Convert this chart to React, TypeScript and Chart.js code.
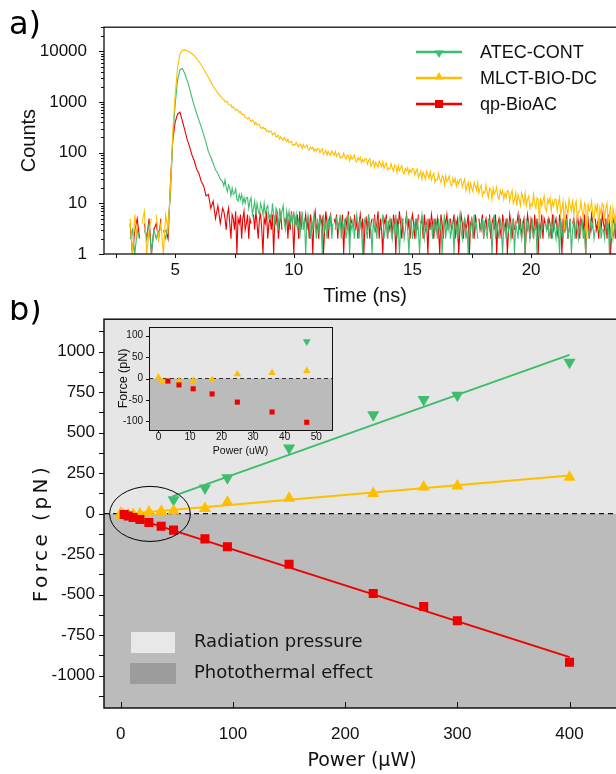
import React, { useEffect, useRef } from 'react';
import Chart from 'chart.js/auto';

// ---------------- Panel a: fluorescence decay (TCSPC) ----------------
// early part: 3.0 ... 7.0 ns every 0.1 ns ; tail: 7.05 ... 24.0 ns every 0.05 ns
const earlyStartNs = 3.0;
const earlyStepNs = 0.1;
const tailStartNs = 7.05;
const tailStepNs = 0.05;

const countsMLCTEarly = [
  0, 5, 1, 6, 2, 0, 4, 7, 1, 3, 5, 0, 6, 2, 4, 1, 6, 3,
  20, 260, 1400, 4800, 8800, 10500, 10700, 10300, 9700, 9000, 8300, 7300, 6300, 5400, 4500, 3700, 3050, 2500, 2050, 1750, 1500, 1320, 1140,
];
const countsMLCTTail = [
  1123, 1009, 1005, 1008, 879, 871, 876, 770, 796, 739, 691, 721, 672, 624, 646, 569, 568, 564, 494, 490,
  463, 494, 444, 411, 438, 414, 363, 397, 355, 357, 364, 316, 298, 319, 296, 304, 264, 276, 254, 266,
  263, 226, 239, 247, 203, 211, 221, 186, 206, 189, 175, 199, 182, 166, 185, 156, 163, 168, 140, 145,
  140, 160, 141, 130, 149, 143, 121, 144, 126, 133, 142, 118, 112, 129, 119, 128, 107, 119, 108, 121,
  120, 100, 111, 120, 93, 101, 111, 89, 106, 96, 89, 109, 98, 89, 106, 85, 93, 99, 78, 83,
  80, 98, 82, 74, 90, 86, 69, 88, 74, 80, 89, 69, 65, 80, 72, 81, 64, 74, 66, 77,
  76, 59, 69, 76, 54, 61, 69, 51, 65, 58, 52, 68, 60, 53, 67, 49, 57, 62, 46, 50,
  48, 61, 50, 43, 57, 53, 40, 56, 44, 50, 56, 41, 38, 49, 44, 51, 38, 46, 41, 49,
  48, 36, 43, 48, 32, 37, 43, 30, 41, 35, 30, 43, 37, 31, 42, 29, 35, 39, 26, 30,
  29, 39, 30, 26, 35, 33, 23, 35, 27, 30, 35, 24, 22, 31, 26, 31, 22, 28, 24, 30,
  30, 21, 26, 30, 18, 22, 26, 17, 25, 20, 17, 26, 22, 18, 26, 16, 20, 23, 14, 17,
  16, 23, 17, 13, 20, 19, 12, 20, 15, 17, 21, 13, 12, 18, 15, 18, 12, 16, 13, 18,
  17, 11, 15, 18, 10, 12, 16, 9, 15, 12, 9, 16, 13, 10, 16, 9, 12, 14, 8, 10,
  9, 15, 10, 8, 13, 12, 4, 13, 9, 11, 14, 8, 7, 12, 10, 13, 7, 11, 9, 12,
  12, 7, 10, 13, 6, 8, 11, 3, 10, 8, 6, 12, 9, 7, 12, 6, 9, 11, 5, 7,
  7, 11, 7, 5, 10, 9, 2, 10, 7, 8, 11, 6, 5, 9, 7, 10, 3, 8, 6, 10,
  9, 5, 8, 10, 4, 6, 9, 2, 8, 6, 4, 9, 7, 5, 9, 5, 7, 8, 4, 5,
];

const countsATECEarly = [
  0, 2, 3, 1, 3, 2, 0, 3, 2, 4, 1, 3, 2, 3, 0, 3, 2, 4,
  14, 200, 900, 2700, 4300, 4600, 3700, 2700, 1900, 1250, 850, 600, 440, 320, 230, 158, 105, 82, 62, 46, 39, 30, 27,
];
const countsATECTail = [
  22, 29, 21, 17, 23, 20, 14, 20, 15, 16, 19, 12, 11, 15, 12, 15, 10, 13, 10, 13,
  13, 8, 11, 13, 6, 8, 11, 6, 10, 7, 6, 10, 8, 6, 10, 6, 8, 9, 5, 6,
  5, 10, 6, 4, 8, 7, 3, 8, 5, 7, 9, 4, 3, 7, 5, 7, 4, 6, 4, 7,
  4, 6, 3, 5, 2, 4, 7, 3, 5, 1, 4, 6, 4, 2, 5, 3, 6, 4, 2, 5,
  3, 5, 4, 1, 6, 3, 4, 2, 5, 3, 6, 2, 4, 0, 3, 5, 4, 3, 6, 2,
  4, 3, 5, 2, 3, 6, 1, 4, 3, 5, 2, 4, 6, 3, 2, 5, 3, 1, 4, 5,
  3, 2, 6, 4, 3, 1, 5, 3, 4, 2, 5, 0, 3, 4, 6, 2, 3, 5, 2, 4,
  5, 3, 2, 4, 3, 6, 2, 4, 1, 3, 5, 4, 2, 3, 6, 3, 1, 4, 5, 2,
  3, 4, 2, 5, 3, 1, 4, 6, 3, 2, 4, 3, 5, 0, 3, 4, 2, 5, 3, 4,
  2, 5, 3, 4, 1, 3, 6, 2, 4, 3, 5, 2, 3, 4, 1, 5, 3, 2, 4, 6,
  3, 2, 4, 5, 2, 3, 1, 4, 3, 5, 2, 6, 3, 4, 2, 0, 4, 3, 5, 2,
  4, 3, 2, 5, 3, 4, 1, 3, 6, 2, 4, 3, 2, 5, 3, 1, 4, 3, 2, 5,
  3, 4, 2, 3, 5, 1, 4, 3, 2, 6, 3, 2, 4, 3, 1, 5, 3, 4, 2, 3,
  5, 2, 3, 4, 1, 3, 5, 2, 4, 3, 0, 4, 3, 5, 2, 3, 4, 2, 6, 3,
  2, 4, 3, 1, 5, 3, 2, 4, 3, 5, 2, 3, 4, 1, 3, 5, 2, 4, 3, 2,
  4, 3, 5, 2, 3, 1, 4, 3, 2, 5, 3, 4, 2, 3, 0, 4, 3, 5, 2, 3,
  3, 2, 4, 3, 5, 1, 3, 4, 2, 3, 5, 2, 4, 1, 3, 4, 2, 5, 3, 2,
];

const countsQPEarly = [
  0, 4, 1, 3, 5, 2, 0, 4, 2, 5, 1, 3, 4, 2, 5, 0, 3, 2,
  25, 180, 400, 580, 630, 430, 285, 185, 135, 92, 70, 48, 39, 27, 22, 14, 15, 8, 11, 5, 9, 4, 8,
];
const countsQPTail = [
  7, 5, 3, 6, 8, 4, 2, 6, 5, 3, 7, 1, 5, 4, 6, 2, 5, 7, 3, 4,
  6, 2, 5, 4, 0, 6, 3, 7, 4, 2, 5, 6, 3, 1, 5, 4, 7, 2, 4, 5,
  3, 6, 1, 5, 4, 7, 2, 4, 6, 3, 0, 5, 4, 6, 2, 5, 3, 7, 4, 1,
  5, 4, 6, 2, 7, 3, 5, 0, 4, 6, 3, 5, 2, 6, 4, 1, 5, 7, 3, 4,
  2, 6, 4, 5, 1, 3, 7, 4, 2, 5, 6, 3, 0, 5, 4, 6, 2, 4, 5, 3,
  6, 1, 4, 5, 3, 7, 2, 5, 4, 0, 6, 3, 5, 2, 4, 6, 3, 5, 1, 4,
  5, 3, 6, 2, 4, 5, 0, 6, 3, 4, 7, 2, 5, 3, 1, 5, 4, 6, 2, 4,
  3, 5, 2, 6, 4, 1, 5, 3, 7, 4, 2, 5, 0, 4, 6, 3, 5, 2, 4, 6,
  4, 2, 5, 3, 6, 0, 4, 5, 2, 6, 3, 4, 1, 5, 3, 6, 4, 2, 5, 3,
  5, 3, 1, 6, 4, 2, 5, 4, 6, 3, 0, 5, 3, 4, 6, 2, 4, 5, 1, 3,
  6, 4, 2, 5, 3, 4, 6, 1, 4, 5, 3, 2, 6, 4, 0, 5, 3, 4, 6, 2,
  4, 5, 3, 0, 6, 2, 4, 5, 3, 6, 1, 4, 5, 3, 2, 6, 4, 3, 5, 1,
  3, 6, 4, 2, 5, 3, 0, 4, 6, 3, 5, 2, 4, 5, 1, 3, 6, 4, 2, 5,
  4, 2, 6, 3, 5, 1, 4, 3, 6, 2, 5, 4, 0, 3, 5, 4, 2, 6, 3, 4,
  5, 3, 2, 6, 4, 1, 5, 3, 4, 6, 2, 3, 5, 0, 4, 5, 3, 2, 6, 4,
  2, 5, 4, 3, 6, 1, 4, 5, 2, 3, 6, 4, 0, 5, 3, 4, 2, 5, 3, 6,
  4, 3, 5, 2, 6, 4, 1, 3, 5, 4, 2, 6, 3, 0, 4, 5, 3, 2, 4, 5,
];

const countTickValues = [1, 10, 100, 1000, 10000];
const timeTickValues = [5, 10, 15, 20];
const decayLabels = ['ATEC-CONT', 'MLCT-BIO-DC', 'qp-BioAC'];

// ---------------- Panel b: optical force vs power ----------------
const powerATEC = [47, 75, 95, 150, 225, 270, 300, 400];
const forceATEC = [86, 158, 222, 405, 610, 705, 730, 934];
const powerMLCT = [0, 1, 2.5, 6.5, 11, 17, 25, 36, 47, 75, 95, 150, 225, 270, 300, 400];
const forceMLCT = [2, -8, -8, -6, -5, -3, 10, 13, 18, 32, 70, 94, 124, 164, 170, 225];
const powerQP = [3, 6.5, 11, 17, 25, 36, 47, 75, 95, 150, 225, 270, 300, 400];
const forceQP = [-6, -15, -24, -36, -55, -78, -102, -156, -205, -313, -493, -573, -661, -917];

const fitPowerATEC = [46, 400];
const fitForceATEC = [106, 980];
const fitPowerMLCT = [-4, 400];
const fitForceMLCT = [-7, 235];
const fitPowerQP = [0, 400];
const fitForceQP = [0, -886];

const forceTickValues = [-1000, -750, -500, -250, 0, 250, 500, 750, 1000];
const powerTickValues = [0, 100, 200, 300, 400];
const insetForceTicks = [-100, -50, 0, 50, 100];
const insetPowerTicks = [0, 10, 20, 30, 40, 50];
const regionLabels = ['Radiation pressure', 'Photothermal effect'];

// highlighted low-power region (ellipse), in data units
const zoomCenterPower = 26;
const zoomCenterForce = -2;
const zoomRadiusPower = 36;
const zoomRadiusForce = 170;

// ---------------- styles ----------------
const GREEN = '#3dbd6e';
const YELLOW = '#ffbf00';
const RED = '#ee0000';
const LIGHT_BG = '#e6e6e6';
const DARK_BG = '#bbbbbb';
const SANS = '"Liberation Sans", Arial, sans-serif';
const DEJAVU = '"DejaVu Sans", sans-serif';
const INK = '#111111';

const toPoints = (xs: number[], ys: number[]) => xs.map((x, i) => ({ x, y: ys[i] }));
const decayPoints = (early: number[], tail: number[]) => [
  ...early.map((y, i) => ({ x: +(earlyStartNs + i * earlyStepNs).toFixed(3), y })),
  ...tail.map((y, i) => ({ x: +(tailStartNs + i * tailStepNs).toFixed(3), y })),
];

function tri(ctx: CanvasRenderingContext2D, x: number, y: number, r: number, down: boolean) {
  const s = down ? -1 : 1;
  ctx.beginPath();
  ctx.moveTo(x, y - s * r);
  ctx.lineTo(x + r * 0.866, y + s * r * 0.5);
  ctx.lineTo(x - r * 0.866, y + s * r * 0.5);
  ctx.closePath();
  ctx.fill();
}
function hLine(ctx: CanvasRenderingContext2D, x0: number, x1: number, y: number) {
  ctx.beginPath();
  ctx.moveTo(x0, y);
  ctx.lineTo(x1, y);
  ctx.stroke();
}
function vLine(ctx: CanvasRenderingContext2D, x: number, y0: number, y1: number) {
  ctx.beginPath();
  ctx.moveTo(x, y0);
  ctx.lineTo(x, y1);
  ctx.stroke();
}

const topDecor = {
  id: 'topDecor',
  afterDraw(chart: any) {
    const { ctx, chartArea: a } = chart;
    const x = chart.scales.x;
    const y = chart.scales.y;
    ctx.save();
    ctx.strokeStyle = INK;
    ctx.lineWidth = 1;
    for (let d = 0; d <= 4; d++) {
      for (let m = 1; m <= 9; m++) {
        const v = m * Math.pow(10, d);
        if (v > y.max) continue;
        const py = Math.round(y.getPixelForValue(v)) + 0.5;
        hLine(ctx, a.left - (m === 1 ? 5 : 3), a.left, py);
      }
    }
    for (let k = 1; k * 2.5 < x.max; k++) {
      const px = Math.round(x.getPixelForValue(k * 2.5)) + 0.5;
      vLine(ctx, px, a.bottom, a.bottom + 4);
    }
    ctx.lineWidth = 1.3;
    ctx.strokeRect(a.left, a.top, a.right - a.left, a.bottom - a.top);

    const colors = [GREEN, YELLOW, RED];
    decayLabels.forEach((lab, i) => {
      const cy = 52 + i * 26;
      ctx.strokeStyle = colors[i];
      ctx.fillStyle = colors[i];
      ctx.lineWidth = 2.5;
      hLine(ctx, 416, 462, cy);
      if (i === 0) tri(ctx, 439, cy + 1, 5, true);
      else if (i === 1) tri(ctx, 439, cy - 1, 5, false);
      else ctx.fillRect(435, cy - 4, 8, 8);
      ctx.fillStyle = INK;
      ctx.font = `18px ${SANS}`;
      ctx.textAlign = 'left';
      ctx.textBaseline = 'middle';
      ctx.fillText(lab, 480, cy + 1);
    });

    ctx.fillStyle = '#000';
    ctx.font = `32px ${DEJAVU}`;
    ctx.textAlign = 'left';
    ctx.textBaseline = 'alphabetic';
    ctx.fillText('a)', 9, 34);
    ctx.restore();
  },
};

const bottomDecor = {
  id: 'bottomDecor',
  beforeDatasetsDraw(chart: any) {
    const { ctx, chartArea: a } = chart;
    const y = chart.scales.y;
    const y0 = y.getPixelForValue(0);
    ctx.save();
    ctx.fillStyle = LIGHT_BG;
    ctx.fillRect(a.left, a.top, a.right - a.left, y0 - a.top);
    ctx.fillStyle = DARK_BG;
    ctx.fillRect(a.left, y0, a.right - a.left, a.bottom - y0);
    ctx.strokeStyle = '#111';
    ctx.lineWidth = 1.2;
    ctx.setLineDash([5, 4]);
    hLine(ctx, a.left, a.right, y0);
    ctx.setLineDash([]);
    ctx.fillStyle = '#e8e8e8';
    ctx.fillRect(131, 332, 44, 21);
    ctx.fillStyle = '#9c9c9c';
    ctx.fillRect(130, 363, 46, 21);
    ctx.fillStyle = '#161616';
    ctx.font = `18px ${DEJAVU}`;
    ctx.textAlign = 'left';
    ctx.textBaseline = 'middle';
    ctx.fillText(regionLabels[0], 194, 342);
    ctx.fillText(regionLabels[1], 194, 373);
    ctx.restore();
  },
  afterDatasetsDraw(chart: any) {
    const { ctx } = chart;
    const x = chart.scales.x;
    const y = chart.scales.y;
    const cx = x.getPixelForValue(zoomCenterPower);
    const cy = y.getPixelForValue(zoomCenterForce);
    const rx = x.getPixelForValue(zoomCenterPower + zoomRadiusPower) - cx;
    const ry = cy - y.getPixelForValue(zoomCenterForce + zoomRadiusForce);
    ctx.save();
    ctx.strokeStyle = '#000';
    ctx.lineWidth = 1;
    ctx.beginPath();
    ctx.ellipse(cx, cy, rx, ry, 0, 0, Math.PI * 2);
    ctx.stroke();
    ctx.restore();
  },
  afterDraw(chart: any) {
    const { ctx, chartArea: a } = chart;
    const x = chart.scales.x;
    const y = chart.scales.y;
    ctx.save();
    ctx.strokeStyle = INK;
    ctx.lineWidth = 1;
    for (let k = -9; k <= 9; k++) {
      const py = Math.round(y.getPixelForValue(k * 125)) + 0.5;
      hLine(ctx, a.left - 5, a.left, py);
    }
    powerTickValues.forEach((v) => {
      const px = Math.round(x.getPixelForValue(v)) + 0.5;
      vLine(ctx, px, a.bottom - 6, a.bottom);
    });
    ctx.lineWidth = 1.5;
    ctx.strokeRect(a.left, a.top, a.right - a.left, a.bottom - a.top);

    ctx.fillStyle = INK;
    ctx.translate(42, 233);
    ctx.rotate(-Math.PI / 2);
    ctx.font = `20px ${DEJAVU}`;
    (ctx as any).letterSpacing = '3.5px';
    ctx.textAlign = 'center';
    ctx.textBaseline = 'middle';
    ctx.fillText('Force (pN)', 0, 0);
    ctx.restore();

    ctx.save();
    ctx.fillStyle = '#000';
    ctx.font = `32px ${DEJAVU}`;
    ctx.textAlign = 'left';
    ctx.textBaseline = 'alphabetic';
    ctx.fillText('b)', 9, 20);
    ctx.restore();
  },
};

const insetDecor = {
  id: 'insetDecor',
  beforeDatasetsDraw(chart: any) {
    const { ctx, chartArea: a } = chart;
    const y = chart.scales.y;
    const y0 = y.getPixelForValue(0);
    ctx.save();
    ctx.fillStyle = LIGHT_BG;
    ctx.fillRect(a.left, a.top, a.right - a.left, y0 - a.top);
    ctx.fillStyle = DARK_BG;
    ctx.fillRect(a.left, y0, a.right - a.left, a.bottom - y0);
    ctx.strokeStyle = '#333';
    ctx.lineWidth = 1.1;
    ctx.setLineDash([4, 3]);
    hLine(ctx, a.left, a.right, y0);
    ctx.restore();
  },
  afterDraw(chart: any) {
    const { ctx, chartArea: a } = chart;
    const x = chart.scales.x;
    const y = chart.scales.y;
    ctx.save();
    ctx.strokeStyle = INK;
    ctx.lineWidth = 1;
    insetPowerTicks.forEach((v) => {
      const px = Math.round(x.getPixelForValue(v)) + 0.5;
      vLine(ctx, px, a.bottom, a.bottom + 3);
    });
    insetForceTicks.forEach((v) => {
      const py = Math.round(y.getPixelForValue(v)) + 0.5;
      hLine(ctx, a.left - 3, a.left, py);
    });
    ctx.strokeRect(a.left + 0.5, a.top + 0.5, a.right - a.left, a.bottom - a.top);
    ctx.restore();
  },
};

export default function App() {
  const topRef = useRef<HTMLCanvasElement>(null);
  const botRef = useRef<HTMLCanvasElement>(null);
  const insetRef = useRef<HTMLCanvasElement>(null);

  useEffect(() => {
    const tickFont = { family: SANS, size: 17 };

    const top = new Chart(topRef.current as HTMLCanvasElement, {
      type: 'line',
      data: {
        datasets: [
          { label: decayLabels[1], data: decayPoints(countsMLCTEarly, countsMLCTTail), borderColor: YELLOW, borderWidth: 1.1, pointRadius: 0 },
          { label: decayLabels[0], data: decayPoints(countsATECEarly, countsATECTail), borderColor: GREEN, borderWidth: 1.1, pointRadius: 0 },
          { label: decayLabels[2], data: decayPoints(countsQPEarly, countsQPTail), borderColor: RED, borderWidth: 1.1, pointRadius: 0 },
        ],
      },
      options: {
        animation: false,
        responsive: false,
        maintainAspectRatio: false,
        devicePixelRatio: 1,
        layout: { padding: { left: 0, right: 14, top: 23, bottom: 0 } },
        plugins: { legend: { display: false }, tooltip: { enabled: false } },
        scales: {
          x: {
            type: 'linear',
            min: 2,
            max: 24,
            grid: { display: false, drawTicks: false },
            border: { display: false },
            afterBuildTicks: (s: any) => { s.ticks = timeTickValues.map((v) => ({ value: v })); },
            afterFit: (s: any) => { s.height = 56; },
            ticks: { font: tickFont, color: INK, padding: 6, autoSkip: false, maxRotation: 0, callback: (v: any) => String(v) },
            title: { display: true, text: 'Time (ns)', font: { family: SANS, size: 20 }, color: INK, padding: { top: 0, bottom: 2 } },
          },
          y: {
            type: 'logarithmic',
            min: 1,
            max: 30000,
            grid: { display: false, drawTicks: false },
            border: { display: false },
            afterBuildTicks: (s: any) => { s.ticks = countTickValues.map((v) => ({ value: v })); },
            afterFit: (s: any) => { s.width = 104; },
            ticks: { font: tickFont, color: INK, padding: 17, autoSkip: false, callback: (v: any) => String(v) },
            title: { display: true, text: 'Counts', font: { family: SANS, size: 20 }, color: INK, padding: { top: 17, bottom: 0 } },
          },
        },
      } as any,
      plugins: [topDecor],
    });

    const scatterSet = (label: string, xs: number[], ys: number[], color: string, style: string, r: number, rot: number) => ({
      type: 'scatter',
      label,
      data: toPoints(xs, ys),
      showLine: false,
      pointStyle: style,
      pointRadius: r,
      pointRotation: rot,
      pointBackgroundColor: color,
      pointBorderColor: color,
      pointBorderWidth: 0,
      backgroundColor: color,
      borderColor: color,
    });
    const fitSet = (xs: number[], ys: number[], color: string) => ({
      type: 'line',
      data: toPoints(xs, ys),
      borderColor: color,
      borderWidth: 2,
      pointRadius: 0,
      fill: false,
    });

    const bot = new Chart(botRef.current as HTMLCanvasElement, {
      type: 'scatter',
      data: {
        datasets: [
          scatterSet(decayLabels[2], powerQP, forceQP, RED, 'rect', 6.4, 0),
          scatterSet(decayLabels[1], powerMLCT, forceMLCT, YELLOW, 'triangle', 7, 0),
          scatterSet(decayLabels[0], powerATEC, forceATEC, GREEN, 'triangle', 7, 180),
          fitSet(fitPowerQP, fitForceQP, RED),
          fitSet(fitPowerMLCT, fitForceMLCT, YELLOW),
          fitSet(fitPowerATEC, fitForceATEC, GREEN),
        ] as any,
      },
      options: {
        animation: false,
        responsive: false,
        maintainAspectRatio: false,
        devicePixelRatio: 1,
        layout: { padding: { left: 0, right: 20, top: 16, bottom: 0 } },
        plugins: { legend: { display: false }, tooltip: { enabled: false } },
        scales: {
          x: {
            type: 'linear',
            min: -15,
            max: 445,
            grid: { display: false, drawTicks: false },
            border: { display: false },
            afterBuildTicks: (s: any) => { s.ticks = powerTickValues.map((v) => ({ value: v })); },
            afterFit: (s: any) => { s.height = 66; },
            ticks: { font: tickFont, color: INK, padding: 16, autoSkip: false, maxRotation: 0, callback: (v: any) => String(v) },
            title: { display: true, text: 'Power (µW)', font: { family: DEJAVU, size: 19 }, color: INK, padding: { top: 0, bottom: 2 } },
          },
          y: {
            type: 'linear',
            min: -1200,
            max: 1200,
            grid: { display: false, drawTicks: false },
            border: { display: false },
            afterBuildTicks: (s: any) => { s.ticks = forceTickValues.map((v) => ({ value: v })); },
            afterFit: (s: any) => { s.width = 104; },
            ticks: { font: tickFont, color: INK, padding: 9, autoSkip: false, callback: (v: any) => String(v) },
            title: { display: false },
          },
        },
      } as any,
      plugins: [bottomDecor],
    });

    const inset = new Chart(insetRef.current as HTMLCanvasElement, {
      type: 'scatter',
      data: {
        datasets: [
          scatterSet(decayLabels[2], powerQP, forceQP, RED, 'rect', 3.6, 0),
          scatterSet(decayLabels[1], powerMLCT, forceMLCT, YELLOW, 'triangle', 4.3, 0),
          scatterSet(decayLabels[0], powerATEC, forceATEC, GREEN, 'triangle', 4.5, 180),
        ] as any,
      },
      options: {
        animation: false,
        responsive: false,
        maintainAspectRatio: false,
        devicePixelRatio: 1,
        layout: { padding: { left: 0, right: 8, top: 12, bottom: 0 } },
        plugins: { legend: { display: false }, tooltip: { enabled: false } },
        scales: {
          x: {
            type: 'linear',
            min: -3,
            max: 55,
            grid: { display: false, drawTicks: false },
            border: { display: false },
            afterBuildTicks: (s: any) => { s.ticks = insetPowerTicks.map((v) => ({ value: v })); },
            afterFit: (s: any) => { s.height = 35; },
            ticks: { font: { family: SANS, size: 10 }, color: INK, padding: 1, autoSkip: false, maxRotation: 0, callback: (v: any) => String(v) },
            title: { display: true, text: 'Power (uW)', font: { family: SANS, size: 10.5 }, color: INK, padding: { top: 0, bottom: 8 } },
          },
          y: {
            type: 'linear',
            min: -120,
            max: 120,
            grid: { display: false, drawTicks: false },
            border: { display: false },
            afterBuildTicks: (s: any) => { s.ticks = insetForceTicks.map((v) => ({ value: v })); },
            afterFit: (s: any) => { s.width = 49; },
            ticks: { font: { family: SANS, size: 10 }, color: INK, padding: 6, autoSkip: false, callback: (v: any) => String(v) },
            title: { display: true, text: 'Force (pN)', font: { family: SANS, size: 12.5 }, color: INK, padding: { top: 16, bottom: 0 } },
          },
        },
      } as any,
      plugins: [insetDecor],
    });

    return () => {
      top.destroy();
      bot.destroy();
      inset.destroy();
    };
  }, []);

  return (
    <div style={{ position: 'fixed', left: 0, top: 0, width: 616, height: 774, overflow: 'hidden', background: '#fff' }}>
      <canvas ref={topRef} width={640} height={310} style={{ position: 'absolute', left: 0, top: 0, width: 640, height: 310 }} />
      <canvas ref={botRef} width={640} height={474} style={{ position: 'absolute', left: 0, top: 300, width: 640, height: 474 }} />
      <canvas ref={insetRef} width={240} height={150} style={{ position: 'absolute', left: 100, top: 315, width: 240, height: 150 }} />
    </div>
  );
}
